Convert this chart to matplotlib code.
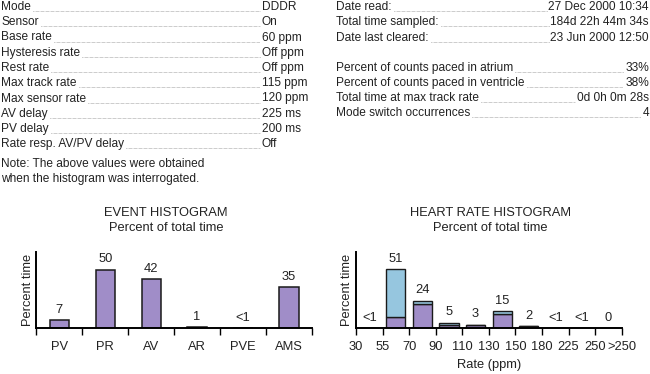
import matplotlib
matplotlib.use("Agg")
import matplotlib.pyplot as plt
from matplotlib.lines import Line2D
import numpy as np

plt.rcParams['font.family'] = ['Liberation Sans', 'DejaVu Sans']

# ---- data ----
left_labels = ["Mode", "Sensor", "Base rate", "Hysteresis rate", "Rest rate", "Max track rate",
               "Max sensor rate", "AV delay", "PV delay", "Rate resp. AV/PV delay"]
left_values = ["DDDR", "On", "60 ppm", "Off ppm", "Off ppm", "115 ppm", "120 ppm",
               "225 ms", "200 ms", "Off"]
note_lines = ["Note: The above values were obtained", "when the histogram was interrogated."]

right_labels = ["Date read:", "Total time sampled:", "Date last cleared:", None,
                "Percent of counts paced in atrium", "Percent of counts paced in ventricle",
                "Total time at max track rate", "Mode switch occurrences"]
right_values = ["27 Dec 2000 10:34", "184d 22h 44m 34s", "23 Jun 2000 12:50", None,
                "33%", "38%", "0d 0h 0m 28s", "4"]

event_categories = ["PV", "PR", "AV", "AR", "PVE", "AMS"]
event_values = [7, 50, 42, 1, 0, 35]
event_labels = ["7", "50", "42", "1", "<1", "35"]

rate_ticks = ["30", "55", "70", "90", "110", "130", "150", "180", "225", "250", ">250"]
rate_paced = [0, 10, 21, 3, 3, 12.5, 2, 0, 0, 0]
rate_sensed = [0, 41, 3, 2, 0, 2.5, 0, 0, 0, 0]
rate_labels = ["<1", "51", "24", "5", "3", "15", "2", "<1", "<1", "0"]

PURPLE = "#a08dc8"
BLUE = "#96c6df"
EDGE = "#1a1a1a"
INK = "#222222"

W, H = 650, 374
fig = plt.figure(figsize=(6.5, 3.74), dpi=100)

def fx(x):
    return x / W

def fy(y):
    return 1 - y / H

TXT = 8.6
CH = 9.3
renderer = fig.canvas.get_renderer()

def leader(x0, x1, y):
    fig.add_artist(Line2D([fx(x0), fx(x1)], [fy(y), fy(y)], transform=fig.transFigure,
                          color="#8a8a8a", lw=0.6, linestyle=(0, (0.6, 0.9))))

# left text block
y0, dy = 7.0, 15.25
for i, (lab, val) in enumerate(zip(left_labels, left_values)):
    y = y0 + i * dy
    t = fig.text(fx(1), fy(y), lab, fontsize=TXT, va="center", ha="left", color=INK)
    fig.text(fx(262), fy(y), val, fontsize=TXT, va="center", ha="left", color=INK)
    bb = t.get_window_extent(renderer)
    leader(bb.x1 + 2, 260, y + 4)
for j, line in enumerate(note_lines):
    fig.text(fx(1), fy(163.5 + j * 15.3), line, fontsize=TXT, va="center", ha="left", color=INK)

# right text block
ry = [7.0, 22.3, 37.6, None, 68.3, 83.0, 98.0, 113.3]
for lab, val, y in zip(right_labels, right_values, ry):
    if lab is None:
        continue
    t = fig.text(fx(336), fy(y), lab, fontsize=TXT, va="center", ha="left", color=INK)
    v = fig.text(fx(649), fy(y), val, fontsize=TXT, va="center", ha="right", color=INK)
    bb = t.get_window_extent(renderer)
    vb = v.get_window_extent(renderer)
    leader(bb.x1 + 2, vb.x0 - 2, y + 4)

# ---- axes ----
top_px, base_px = 251.7, 328.3
ax1 = fig.add_axes([fx(36.3), fy(base_px), (312 - 36.3) / W, (base_px - top_px) / H])
ax2 = fig.add_axes([fx(356), fy(base_px), (621.7 - 356) / W, (base_px - top_px) / H])

for ax in (ax1, ax2):
    for s in ("top", "right"):
        ax.spines[s].set_visible(False)
    ax.spines["left"].set_linewidth(1.4)
    ax.spines["bottom"].set_linewidth(1.4)
    ax.set_yticks([])
    ax.set_ylabel("Percent time", fontsize=CH, labelpad=2, color=INK)

# event histogram
x = np.arange(len(event_categories))
ax1.bar(x, event_values, width=0.42, color=PURPLE, edgecolor=EDGE, linewidth=1.1)
ax1.set_xlim(-0.5, len(event_categories) - 0.5)
ax1.set_ylim(0, 65.5)
ax1.set_xticks(np.arange(len(event_categories) + 1) - 0.5)
ax1.set_xticklabels([])
ax1.tick_params(axis="x", which="major", direction="out", length=5, width=1.0)
ax1.set_xticks(x, minor=True)
ax1.set_xticklabels(event_categories, minor=True, fontsize=CH, color=INK)
ax1.tick_params(axis="x", which="minor", length=0, pad=9.5)
for xi, v, lab in zip(x, event_values, event_labels):
    ax1.annotate(lab, (xi, v), xytext=(0, 7.5), textcoords="offset points",
                 ha="center", va="center", fontsize=CH, color=INK)

# heart rate histogram
xb = np.arange(len(rate_paced)) + 0.5
ax2.bar(xb, rate_paced, width=0.72, color=PURPLE, edgecolor=EDGE, linewidth=1.0)
ax2.bar(xb, rate_sensed, bottom=rate_paced, width=0.72, color=BLUE, edgecolor=EDGE, linewidth=1.0)
ax2.set_xlim(0, len(rate_paced))
ax2.set_ylim(0, 66.2)
ax2.set_xticks(np.arange(len(rate_ticks)))
ax2.set_xticklabels(rate_ticks, fontsize=CH, color=INK)
ax2.tick_params(axis="x", direction="out", length=5, width=1.0, pad=4.5)
for xi, p, s, lab in zip(xb, rate_paced, rate_sensed, rate_labels):
    ax2.annotate(lab, (xi, p + s), xytext=(0, 7.5), textcoords="offset points",
                 ha="center", va="center", fontsize=CH, color=INK)
ax2.set_xlabel("Rate (ppm)", fontsize=CH, labelpad=4, color=INK)

# titles
fig.text(fx(166), fy(213), "EVENT HISTOGRAM", fontsize=CH, ha="center", va="center", color=INK)
fig.text(fx(166), fy(228), "Percent of total time", fontsize=CH, ha="center", va="center", color=INK)
fig.text(fx(490), fy(213), "HEART RATE HISTOGRAM", fontsize=CH, ha="center", va="center", color=INK)
fig.text(fx(490), fy(228), "Percent of total time", fontsize=CH, ha="center", va="center", color=INK)

fig.savefig("out.png", dpi=100)
